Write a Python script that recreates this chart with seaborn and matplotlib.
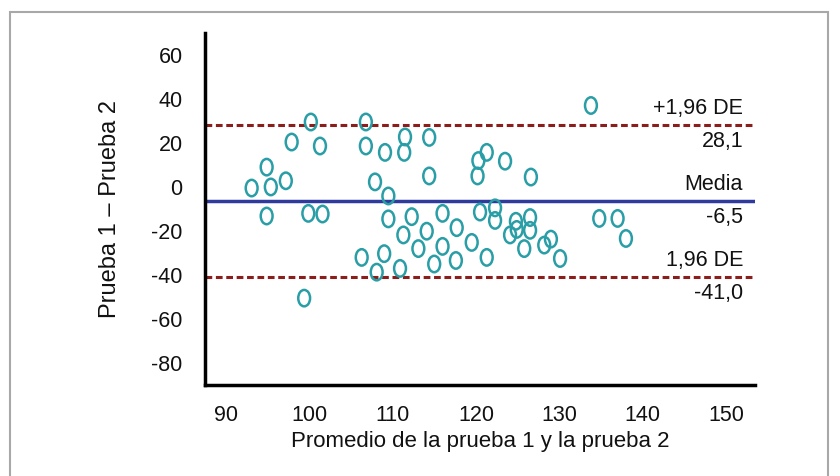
import numpy as np
import pandas as pd
import matplotlib
matplotlib.use("Agg")
import matplotlib.pyplot as plt
import seaborn as sns
from matplotlib.path import Path
from matplotlib.patches import Rectangle

# promedio de las dos pruebas (eje x) y diferencia prueba 1 - prueba 2 (eje y)
promedio = [93.1, 94.9, 95.4, 97.2, 94.9, 97.9, 100.2, 101.3, 99.9, 101.6,
            99.4, 106.8, 106.8, 109.1, 111.5, 111.4, 114.4, 107.9, 109.5, 114.4,
            109.5, 112.3, 116.0, 106.3, 109.0, 108.1, 110.9, 111.3, 113.1, 114.1,
            116.0, 117.7, 115.0, 117.6, 119.5, 121.3, 120.5, 122.3, 122.3, 120.3,
            121.3, 120.2, 123.5, 126.6, 124.8, 124.1, 124.9, 126.5, 126.5, 125.8,
            128.2, 129.0, 130.1, 133.8, 134.8, 137.0, 138.0]
diferencia = [-0.5, 9.0, 0.0, 2.8, -13.2, 20.4, 29.5, 18.6, -12.0, -12.3,
              -50.5, 29.5, 18.6, 15.7, 22.7, 15.7, 22.5, 2.3, -4.1, 5.0,
              -14.5, -13.5, -12.0, -32.0, -30.3, -38.7, -37.0, -21.8, -28.0, -20.1,
              -27.0, -18.5, -35.0, -33.4, -25.2, -32.0, -11.4, -9.5, -15.2, 12.0,
              15.7, 5.0, 11.7, 4.5, -15.6, -21.8, -19.3, -13.9, -19.7, -28.0,
              -26.4, -23.7, -32.5, 37.0, -14.3, -14.3, -23.4]

media = -6.5
lim_sup = 28.1
lim_inf = -41.0

x_ticks = [90, 100, 110, 120, 130, 140, 150]
y_ticks = [-80, -60, -40, -20, 0, 20, 40, 60]

sns.set_style("white")
plt.rcParams["font.family"] = ["Liberation Sans", "DejaVu Sans"]
plt.rcParams["axes.unicode_minus"] = False

df = pd.DataFrame({"promedio": promedio, "diferencia": diferencia})

fig = plt.figure(figsize=(8.4, 4.76), dpi=100)
ax = fig.add_axes([0.244, 0.191, 0.655, 0.74])

# marcador ovalado (más alto que ancho)
circ = Path.unit_circle()
oval = Path(circ.vertices * np.array([0.72, 1.0]), circ.codes)

rojo = "#8b1d1d"
azul = "#2e3b9c"
texto = "#111111"
ax.axhline(lim_sup, color=rojo, lw=2.2, ls=(0, (2.2, 1.2)), zorder=1)
ax.axhline(lim_inf, color=rojo, lw=2.2, ls=(0, (2.2, 1.2)), zorder=1)
ax.axhline(media, color=azul, lw=2.5, zorder=1)

sns.scatterplot(data=df, x="promedio", y="diferencia", marker=oval, s=140,
                facecolors="none", edgecolor="#2a9ea6", linewidth=1.8,
                ax=ax, zorder=2)
ax.collections[-1].set_facecolor("none")

ax.set_xlim(87.5, 153.5)
ax.set_ylim(-90, 70)
ax.set_xticks(x_ticks)
ax.set_yticks(y_ticks)
ax.tick_params(axis="both", length=0, labelsize=15.5, colors=texto)
ax.tick_params(axis="y", pad=16)
ax.tick_params(axis="x", pad=14)

for s in ["top", "right"]:
    ax.spines[s].set_visible(False)
for s in ["left", "bottom"]:
    ax.spines[s].set_color("black")
    ax.spines[s].set_linewidth(2.5)

ax.set_xlabel("Promedio de la prueba 1 y la prueba 2", fontsize=16, color=texto)
ax.set_ylabel("Prueba 1 \u2013 Prueba 2", fontsize=17, color=texto)
ax.xaxis.set_label_coords(0.5, -0.13)
ax.yaxis.set_label_coords(-0.152, 0.5)

# etiquetas de las líneas
etiquetas = [(lim_sup, "+1,96 DE", "28,1"),
             (media, "Media", "-6,5"),
             (lim_inf, "1,96 DE", "-41,0")]
trans = ax.get_yaxis_transform()
for val, arriba, abajo in etiquetas:
    ax.annotate(arriba, xy=(0.978, val), xycoords=trans, xytext=(0, 12),
                textcoords="offset points", ha="right", va="center",
                fontsize=15.5, color=texto)
    ax.annotate(abajo, xy=(0.978, val), xycoords=trans, xytext=(0, -12),
                textcoords="offset points", ha="right", va="center",
                fontsize=15.5, color=texto)

fig.patches.append(Rectangle((0.012, -0.02), 0.974, 0.995, transform=fig.transFigure,
                             fill=False, edgecolor="#a8a8a8", lw=1.5))

fig.savefig("out.png", dpi=100)
